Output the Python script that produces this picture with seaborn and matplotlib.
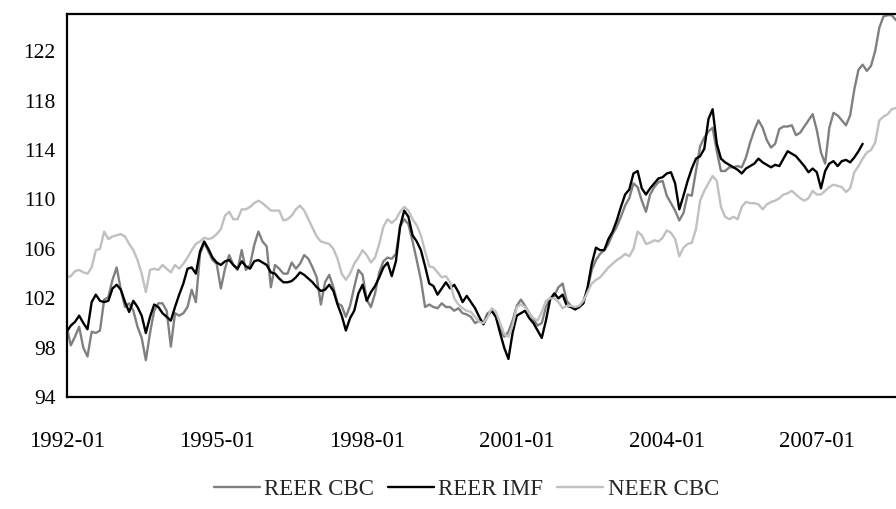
import numpy as np
import pandas as pd
import matplotlib
matplotlib.use('Agg')
import matplotlib.pyplot as plt
import seaborn as sns

# monthly index values, starting 1992-01
start_month = '1992-01'

reer_cbc = [
    99.7, 98.2, 98.9, 99.7, 98.0, 97.3, 99.3, 99.2, 99.4, 101.9,
    102.1, 103.5, 104.5, 102.7, 101.3, 101.6, 101.0, 99.7, 98.8, 97.0,
    99.2, 101.0, 101.6, 101.6, 101.0, 98.1, 100.8, 100.6, 100.8, 101.3,
    102.7, 101.7, 105.6, 106.5, 105.8, 105.1, 104.8, 102.8, 104.4, 105.5,
    104.7, 104.3, 105.9, 104.3, 104.7, 106.3, 107.4, 106.6, 106.2, 102.9,
    104.7, 104.4, 104.0, 104.0, 104.9, 104.4, 104.8, 105.5, 105.2, 104.5,
    103.7, 101.5, 103.3, 103.9, 102.9, 101.6, 101.4, 100.5, 101.4, 102.9,
    104.3, 103.9, 101.9, 101.3, 102.4, 104.1, 105.0, 105.3, 105.2, 105.6,
    107.8, 108.4, 108.0, 106.6, 105.1, 103.5, 101.3, 101.5, 101.3, 101.2,
    101.6, 101.3, 101.3, 101.0, 101.2, 100.8, 100.7, 100.5, 100.0, 100.2,
    100.0, 100.8, 101.0, 100.5, 99.5, 98.9, 99.3, 100.2, 101.4, 101.9,
    101.4, 100.8, 100.3, 99.8, 100.0, 101.3, 102.0, 102.2, 102.9, 103.2,
    101.8, 101.4, 101.2, 101.3, 101.8, 102.8, 104.3, 105.1, 105.6, 105.9,
    106.4, 107.2, 107.8, 108.6, 109.5, 110.1, 111.3, 111.0, 109.9, 109.0,
    110.4, 111.0, 111.4, 111.5, 110.3, 109.7, 109.1, 108.3, 108.9, 110.4,
    110.3, 112.3, 114.3, 115.0, 115.5, 115.8, 113.9, 112.3, 112.3, 112.6,
    112.6, 112.7, 112.6, 113.4, 114.6, 115.6, 116.4, 115.8, 114.8, 114.2,
    114.5, 115.7, 115.9, 115.9, 116.0, 115.2, 115.4, 115.9, 116.4, 116.9,
    115.6, 113.8, 112.9, 115.8, 117.0, 116.8, 116.4, 116.0, 116.8, 118.9,
    120.5, 120.9, 120.4, 120.8, 122.0, 123.9, 124.8, 124.9, 124.9, 124.5,
]

reer_imf = [
    99.3, 99.8, 100.1, 100.6, 100.0, 99.5, 101.7, 102.3, 101.8, 101.7,
    101.8, 102.8, 103.1, 102.7, 101.7, 100.9, 101.8, 101.3, 100.6, 99.2,
    100.5, 101.5, 101.3, 100.8, 100.5, 100.2, 101.3, 102.3, 103.2, 104.4,
    104.5, 104.0, 105.8, 106.6, 106.0, 105.3, 104.9, 104.7, 105.0, 105.1,
    104.7, 104.4, 105.0, 104.6, 104.4, 105.0, 105.1, 104.9, 104.7, 104.1,
    104.0, 103.6, 103.3, 103.3, 103.4, 103.7, 104.1, 103.9, 103.6, 103.3,
    102.9, 102.6, 102.7, 103.1, 102.6, 101.5, 100.6, 99.4, 100.4, 101.0,
    102.4, 103.1, 101.8, 102.5, 103.0, 103.7, 104.5, 104.9, 103.8, 105.0,
    107.8, 109.1, 108.6, 107.1, 106.6, 105.9, 104.6, 103.2, 103.0, 102.3,
    102.8, 103.3, 102.8, 103.1, 102.5, 101.7, 102.2, 101.7, 101.2, 100.5,
    99.9, 100.6, 101.0, 100.5, 99.2, 98.0, 97.1, 99.2, 100.6, 100.8,
    101.0, 100.4, 100.0, 99.4, 98.8, 100.2, 101.9, 102.4, 102.0, 102.3,
    101.4, 101.3, 101.1, 101.3, 101.6, 102.9, 104.8, 106.1, 105.9, 105.9,
    106.8, 107.4, 108.3, 109.4, 110.4, 110.8, 112.1, 112.3, 110.9, 110.4,
    110.9, 111.3, 111.7, 111.8, 112.1, 112.2, 111.3, 109.2, 110.3, 111.5,
    112.5, 113.3, 113.5, 114.1, 116.5, 117.3, 114.5, 113.3, 113.0, 112.8,
    112.6, 112.4, 112.1, 112.5, 112.7, 112.9, 113.3, 113.0, 112.8, 112.6,
    112.8, 112.7, 113.3, 113.9, 113.7, 113.5, 113.1, 112.7, 112.2, 112.5,
    112.2, 110.9, 112.3, 112.9, 113.1, 112.7, 113.1, 113.2, 113.0, 113.4,
    113.9, 114.5,
]

neer_cbc = [
    103.7, 103.8, 104.2, 104.3, 104.1, 104.0, 104.5, 105.9, 106.0, 107.4,
    106.8, 107.0, 107.1, 107.2, 107.0, 106.4, 105.9, 105.1, 104.0, 102.5,
    104.3, 104.4, 104.3, 104.7, 104.4, 104.1, 104.7, 104.4, 104.8, 105.3,
    105.9, 106.4, 106.6, 106.9, 106.8, 106.9, 107.2, 107.6, 108.7, 109.0,
    108.4, 108.4, 109.2, 109.2, 109.4, 109.7, 109.9, 109.7, 109.4, 109.1,
    109.1, 109.1, 108.3, 108.4, 108.7, 109.2, 109.5, 109.1, 108.4, 107.7,
    107.0, 106.6, 106.5, 106.4, 106.0, 105.2, 104.0, 103.5, 104.0, 104.8,
    105.3, 105.9, 105.5, 104.9, 105.3, 106.4, 107.8, 108.4, 108.1, 108.4,
    109.0, 109.4, 109.1, 108.4, 107.9, 107.1, 105.8, 104.6, 104.5, 104.1,
    103.7, 103.8, 103.3, 102.0, 101.5, 101.2, 101.0, 100.9, 100.5, 100.1,
    100.0, 100.5, 101.2, 100.9, 100.0, 99.1, 98.9, 99.8, 101.3, 101.5,
    101.3, 100.8, 100.4, 100.2, 100.9, 101.8, 102.0, 102.0, 101.7, 101.2,
    101.4, 101.4, 101.3, 101.4, 101.8, 102.5, 103.2, 103.5, 103.7, 104.1,
    104.5, 104.8, 105.1, 105.3, 105.6, 105.4, 106.0, 107.4, 107.1, 106.4,
    106.5, 106.7, 106.6, 106.9, 107.5, 107.3, 106.8, 105.4, 106.1, 106.4,
    106.5, 107.6, 109.9, 110.7, 111.3, 111.9, 111.5, 109.4, 108.6, 108.4,
    108.6, 108.4, 109.4, 109.8, 109.7, 109.7, 109.6, 109.2, 109.6, 109.8,
    109.9, 110.1, 110.4, 110.5, 110.7, 110.4, 110.1, 109.9, 110.1, 110.7,
    110.4, 110.4, 110.7, 111.0, 111.2, 111.1, 111.0, 110.6, 110.9, 112.2,
    112.7, 113.3, 113.8, 114.0, 114.6, 116.4, 116.7, 116.9, 117.3, 117.4,
]

series_names = ['REER CBC', 'REER IMF', 'NEER CBC']
series_colors = ['#808080', '#000000', '#c0c0c0']
tick_labels = ['1992-01', '1995-01', '1998-01', '2001-01', '2004-01', '2007-01']
y_ticks = [94, 98, 102, 106, 110, 114, 118, 122]

# Build long-form table
months = list(pd.period_range(start_month, periods=len(reer_cbc), freq='M').strftime('%Y-%m'))
frames = []
for name, vals in zip(series_names, [reer_cbc, reer_imf, neer_cbc]):
    frames.append(pd.DataFrame({'t': np.arange(len(vals)), 'value': vals, 'series': name}))
df = pd.concat(frames, ignore_index=True)

sns.set_style('white')
plt.rcParams['font.family'] = ['Liberation Serif', 'DejaVu Serif']

fig = plt.figure(figsize=(8.96, 5.09), dpi=100)
ax = fig.add_axes([0.0744, 0.2195, 0.9256, 0.753])

sns.lineplot(data=df, x='t', y='value', hue='series', hue_order=series_names,
             palette=dict(zip(series_names, series_colors)), linewidth=1.7, ax=ax)

ax.set_xlim(0, len(reer_cbc) - 1)
ax.set_ylim(94, 125)
ax.set_yticks(y_ticks)
ax.set_yticklabels([str(v) for v in y_ticks], fontsize=15.5)

# tick every 6 months, label every 3 years
xt = list(range(0, len(reer_cbc), 6))
ax.set_xticks(xt)
ax.set_xticklabels([months[i] if months[i] in tick_labels else '' for i in xt], fontsize=16.5)
ax.set_xlabel('')
ax.set_ylabel('')

for side in ['left', 'bottom', 'top']:
    ax.spines[side].set_color('black')
    ax.spines[side].set_linewidth(1.6)
ax.spines['right'].set_visible(False)
ax.tick_params(axis='both', direction='out', length=5, width=1.0, color='black', labelcolor='black')
ax.tick_params(axis='x', pad=19)
ax.tick_params(axis='y', pad=3)
ax.grid(False)

sns.move_legend(ax, 'center', bbox_to_anchor=(0.482, -0.24), ncol=3, frameon=False,
                title=None, fontsize=16.5, handlelength=2.0, handletextpad=0.2, columnspacing=0.6)

fig.savefig('out.png', dpi=100)
